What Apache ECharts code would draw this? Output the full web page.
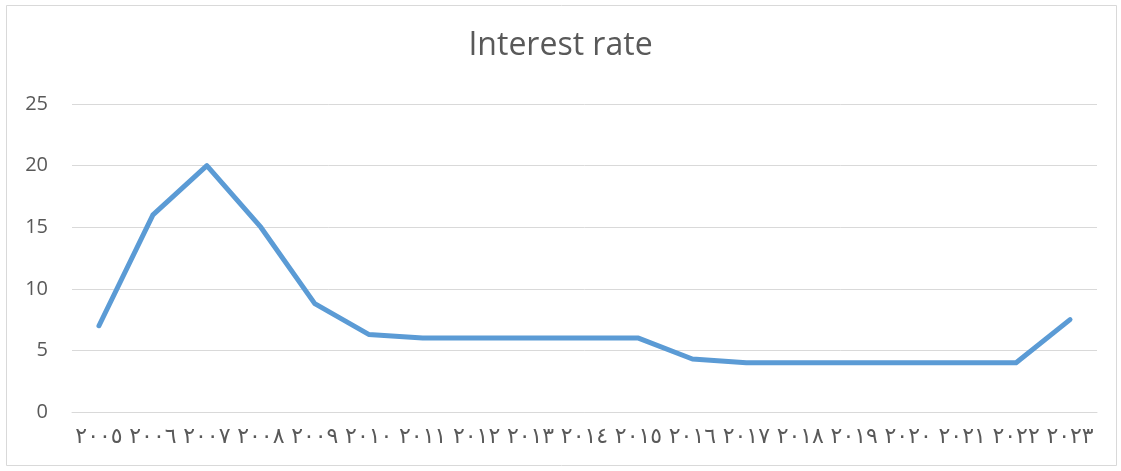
<!DOCTYPE html>
<html><head><meta charset="utf-8">
<script src="https://cdn.jsdelivr.net/npm/echarts@6/dist/echarts.min.js"></script>
<style>html,body{margin:0;padding:0;background:#fff}#c{width:1121px;height:471px}</style>
</head><body><div id="c"></div>
<script>
const years = ['٢٠٠٥','٢٠٠٦','٢٠٠٧','٢٠٠٨','٢٠٠٩','٢٠١٠','٢٠١١','٢٠١٢','٢٠١٣','٢٠١٤','٢٠١٥','٢٠١٦','٢٠١٧','٢٠١٨','٢٠١٩','٢٠٢٠','٢٠٢١','٢٠٢٢','٢٠٢٣'];
const interestRate = [7, 16, 20, 15, 8.8, 6.3, 6, 6, 6, 6, 6, 4.3, 4, 4, 4, 4, 4, 4, 7.5];
const titleText = 'Interest rate';

const chart = echarts.init(document.getElementById('c'), null, {renderer:'canvas'});
chart.setOption({
  backgroundColor:'#fff',
  animation:false,
  graphic:[{type:'rect',shape:{x:6.5,y:5.5,width:1110,height:460},style:{fill:'none',stroke:'#d9d9d9',lineWidth:1},silent:true}],
  title:{text:titleText,left:'center',top:25,textStyle:{fontFamily:'Open Sans',fontWeight:'normal',fontSize:32,color:'#595959'}},
  grid:{left:72,right:24,top:104,bottom:59,containLabel:false},
  xAxis:{type:'category',data:years,boundaryGap:true,
    axisLine:{show:true,lineStyle:{color:'#d9d9d9',width:1}},axisTick:{show:false},
    axisLabel:{interval:0,fontFamily:'DejaVu Sans',fontSize:22,color:'#595959',margin:14}},
  yAxis:{type:'value',min:0,max:25,interval:5,
    axisLine:{show:false},axisTick:{show:false},
    splitLine:{lineStyle:{color:'#d9d9d9',width:1}},
    axisLabel:{fontFamily:'Open Sans',fontSize:20,color:'#595959',margin:24}},
  series:[{type:'line',data:interestRate,showSymbol:false,symbol:'none',
    lineStyle:{color:'#5b9bd5',width:5,cap:'round',join:'round'}}]
});
</script></body></html>
